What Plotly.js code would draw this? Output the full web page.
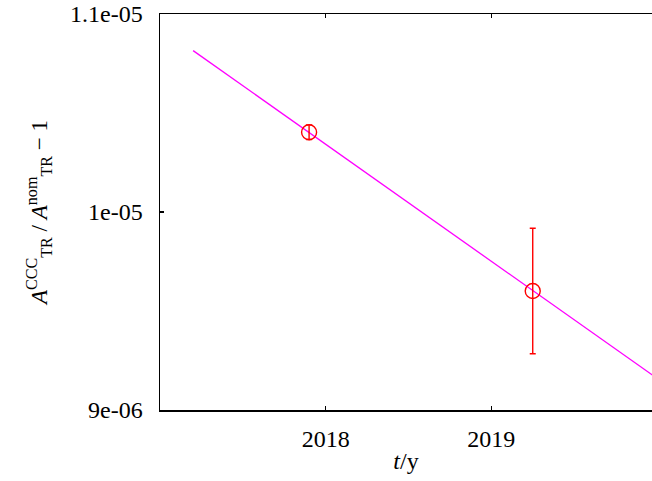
<!DOCTYPE html>
<html>
<head>
<meta charset="utf-8">
<script src="https://cdn.plot.ly/plotly-3.0.1.min.js"></script>
<style>html,body{margin:0;padding:0;background:#fff;}#plot{width:652px;height:481px;}</style>
</head>
<body>
<div id="plot"></div>
<script>
// Measured data
const pointYears = [2017.90, 2019.25];
const pointValues = [1.0403e-5, 9.601e-6];
const pointErrors = [3.7e-8, 3.17e-7];
// Fitted line
const fitYears = [2017.20, 2020.0];
const fitValues = [1.0815e-5, 9.16e-6];
// Tick labels
const xTickVals = [2018, 2019];
const xTickText = ['2018', '2019'];
const yTickVals = [9e-6, 1e-5, 1.1e-5];
const yTickText = ['9e-06', '1e-05', '1.1e-05'];

const serif = '"Times New Roman", Times, Tinos, "DejaVu Serif", serif';

const traces = [
  {
    x: fitYears, y: fitValues, mode: 'lines', type: 'scatter',
    line: {color: '#ff00ff', width: 1.3}, hoverinfo: 'skip', showlegend: false
  },
  {
    x: pointYears, y: pointValues, mode: 'markers', type: 'scatter',
    marker: {symbol: 'circle-open', size: 15, color: '#ff0000', line: {width: 1.4, color: '#ff0000'}},
    error_y: {type: 'data', array: pointErrors, visible: true, color: '#ff0000', thickness: 1.4, width: 3},
    showlegend: false
  }
];

const layout = {
  width: 652, height: 481,
  margin: {l: 160, r: 0, t: 14, b: 71, pad: 0},
  paper_bgcolor: '#fff', plot_bgcolor: '#fff',
  font: {family: serif, color: '#000', size: 24},
  xaxis: {
    range: [2017.0, 2019.97], tickvals: xTickVals, ticktext: xTickText,
    ticks: 'inside', ticklen: 4, tickwidth: 1.3, tickcolor: '#000',
    showline: true, linecolor: '#000', linewidth: 1.5, mirror: 'ticks',
    showgrid: false, zeroline: false,
    tickfont: {family: serif, size: 24}, ticklabelstandoff: 7,
    title: {text: '<i>t</i>/y', font: {family: serif, size: 24}, standoff: 1}
  },
  yaxis: {
    range: [9e-6, 1.1e-5], tickvals: yTickVals, ticktext: yTickText,
    ticks: 'inside', ticklen: 4, tickwidth: 1.3, tickcolor: '#000',
    showline: true, linecolor: '#000', linewidth: 1.5, mirror: false,
    showgrid: false, zeroline: false,
    tickfont: {family: serif, size: 24}, ticklabelstandoff: 11,
    title: {text: '<i>A</i><sup>CCC</sup><sub>TR</sub> / <i>A</i><sup>nom</sup><sub>TR</sub> − 1', font: {family: serif, size: 23}, standoff: 16}
  }
};

Plotly.newPlot('plot', traces, layout, {displayModeBar: false, staticPlot: true});
</script>
</body>
</html>
